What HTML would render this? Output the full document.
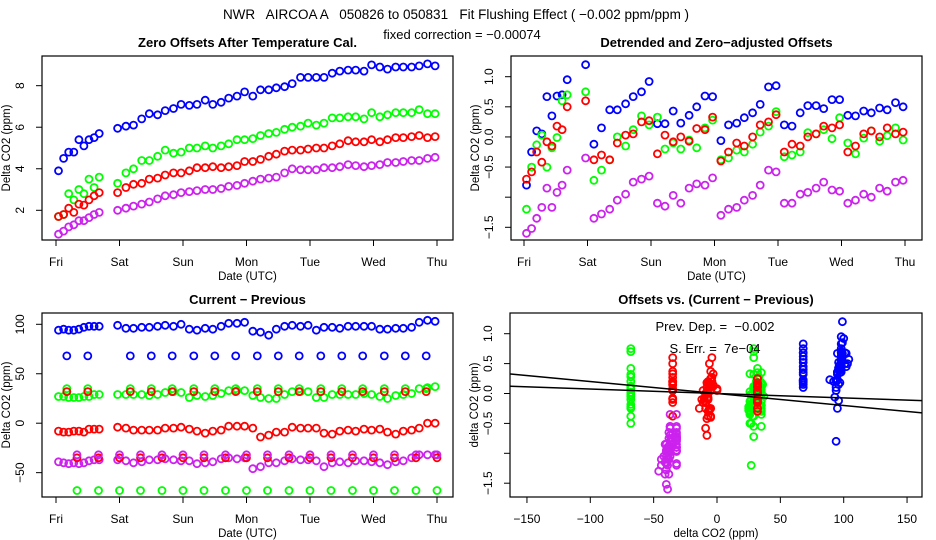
<!DOCTYPE html>
<html><head><meta charset="utf-8"><style>
html,body{margin:0;padding:0;background:#fff}
svg{display:block;font-family:"Liberation Sans",sans-serif}
text{white-space:pre}
</style></head><body>
<svg id="chart" width="936" height="540" viewBox="0 0 936 540" xmlns="http://www.w3.org/2000/svg" xml:space="preserve">
<text x="456" y="19" font-size="13.5" text-anchor="middle" xml:space="preserve">NWR   AIRCOA A   050826 to 050831   Fit Flushing Effect ( −0.002 ppm/ppm )</text>
<text x="462" y="39" font-size="13" text-anchor="middle">fixed correction = −0.00074</text>
</svg>
<script>
const times=[0.04,0.12,0.2,0.28,0.36,0.44,0.52,0.6,0.68,0.97,1.1,1.22,1.35,1.47,1.6,1.72,1.85,1.97,2.1,2.22,2.35,2.47,2.6,2.72,2.85,2.97,3.1,3.22,3.35,3.47,3.6,3.72,3.85,3.97,4.1,4.22,4.35,4.47,4.6,4.72,4.85,4.97,5.1,5.22,5.35,5.47,5.6,5.72,5.85,5.97];
const dayLabels=["Fri","Sat","Sun","Mon","Tue","Wed","Thu"];
// Panel 1: zero offsets
const offBlue=[3.9,4.5,4.8,4.8,5.4,5.1,5.4,5.5,5.7,5.95,6.05,6.1,6.4,6.65,6.6,6.8,6.9,7.1,7.05,7.1,7.3,7.1,7.2,7.4,7.5,7.7,7.5,7.8,7.8,7.9,7.95,8.1,8.4,8.4,8.4,8.4,8.6,8.7,8.75,8.75,8.7,9.0,8.9,8.8,8.9,8.9,8.9,8.95,9.05,8.95];
const offGreen=[1.7,1.8,2.8,2.5,3.0,2.8,3.5,3.1,3.6,3.3,3.8,4.0,4.4,4.4,4.6,4.9,4.75,4.8,5.0,5.0,5.1,5.0,5.1,5.2,5.4,5.4,5.45,5.6,5.7,5.75,5.9,6.0,6.05,6.2,6.1,6.2,6.45,6.45,6.5,6.5,6.4,6.7,6.5,6.6,6.7,6.7,6.7,6.85,6.65,6.65];
const offRed=[1.7,1.8,2.1,1.9,2.3,2.25,2.5,2.7,2.85,2.85,3.1,3.25,3.3,3.5,3.55,3.7,3.8,3.8,3.9,4.05,4.05,4.1,4.05,4.1,4.15,4.35,4.35,4.45,4.6,4.7,4.85,4.9,4.9,4.95,5.0,5.0,5.1,5.2,5.35,5.3,5.3,5.4,5.3,5.4,5.5,5.5,5.55,5.6,5.5,5.55];
const offPurple=[0.85,1.0,1.2,1.3,1.5,1.5,1.65,1.8,1.9,2.0,2.1,2.2,2.3,2.4,2.55,2.7,2.75,2.85,2.9,2.95,3.0,3.0,3.05,3.15,3.2,3.3,3.4,3.5,3.55,3.6,3.8,4.0,3.95,3.95,3.95,4.05,4.05,4.1,4.2,4.15,4.1,4.15,4.2,4.3,4.3,4.35,4.4,4.4,4.5,4.55];
// Panel 2: detrended
const detBlue=[-0.8,-0.25,0.1,0.05,0.67,0.35,0.68,0.7,0.95,1.2,-0.12,0.15,0.45,0.45,0.55,0.67,0.75,0.92,0.22,0.22,0.43,0.23,0.36,0.5,0.68,0.67,-0.06,0.2,0.23,0.32,0.4,0.54,0.83,0.85,0.2,0.18,0.4,0.52,0.52,0.47,0.62,0.62,0.36,0.35,0.43,0.4,0.48,0.45,0.57,0.5];
const detGreen=[-1.2,-0.5,-0.13,0.03,-0.5,-0.18,-0.01,0.6,0.7,0.75,-0.72,-0.55,-0.38,0.0,-0.15,0.12,0.35,0.2,0.33,-0.2,-0.1,-0.2,-0.05,-0.18,0.15,0.28,-0.38,-0.35,-0.22,-0.25,-0.12,0.08,0.18,0.42,-0.33,-0.3,-0.25,0.07,0.05,0.12,-0.03,0.32,-0.1,-0.28,-0.02,0.1,-0.07,0.02,0.15,-0.05];
const detRed=[-0.7,-0.58,-0.25,-0.42,-0.08,-0.15,0.18,0.12,0.5,0.6,-0.38,-0.3,-0.38,-0.1,0.03,0.05,0.25,0.27,-0.28,0.03,-0.08,0.0,-0.07,0.14,0.12,0.33,-0.4,-0.25,-0.1,-0.15,0.0,0.2,0.25,0.37,-0.25,-0.12,-0.15,0.0,0.05,0.18,0.15,0.2,-0.25,-0.15,0.05,0.1,0.0,0.15,0.05,0.08];
const detPurple=[-1.6,-1.52,-1.35,-1.17,-0.85,-1.17,-0.92,-0.8,-0.55,-0.35,-1.35,-1.28,-1.2,-1.05,-0.95,-0.75,-0.7,-0.65,-1.1,-1.15,-0.97,-1.1,-0.85,-0.78,-0.8,-0.68,-1.3,-1.2,-1.17,-1.05,-0.97,-0.8,-0.55,-0.58,-1.1,-1.1,-0.95,-0.92,-0.85,-0.75,-0.88,-0.9,-1.1,-1.05,-0.95,-1.0,-0.85,-0.9,-0.75,-0.72];
// Panel 3: current - previous
const cpBlue=[94,95,94,94,95,97,98,98,98,99,96,96,97,97,98,99,98,100,95,94,96,95,98,101,101,102,93,92,89,95,98,99,98,99,94,97,97,96,98,98,98,98,95,95,96,96,97,102,104,103];
const cpGreen=[27,27,26,26,26,27,27,29,29,29,29,29,29,28,29,31,32,31,26,28,27,28,30,33,33,33,28,26,25,25,29,32,32,32,26,26,29,29,29,29,30,29,27,25,28,29,30,35,36,37];
const cpRed=[-8,-9,-9,-8,-8,-9,-6,-6,-6,-4,-5,-7,-7,-7,-7,-5,-5,-4,-6,-8,-10,-8,-7,-3,-3,-3,-5,-14,-12,-9,-9,-4,-5,-5,-5,-10,-11,-8,-7,-8,-6,-7,-6,-9,-11,-8,-7,-5,0,0];
const cpPurple=[-39,-40,-41,-40,-41,-40,-38,-37,-37,-37,-38,-40,-39,-37,-37,-36,-37,-38,-38,-41,-40,-39,-36,-35,-36,-35,-46,-44,-40,-40,-38,-36,-37,-37,-38,-44,-40,-39,-40,-38,-38,-39,-40,-42,-39,-38,-35,-32,-32,-32];
const spikeTimesA=[0.17,0.5,1.17,1.5,1.83,2.17,2.5,2.83,3.17,3.5,3.83,4.17,4.5,4.83,5.17,5.5,5.83];
const spikeTimesB=[0.33,0.67,1.0,1.33,1.67,2.0,2.33,2.67,3.0,3.33,3.67,4.0,4.33,4.67,5.0,5.33,5.67,6.0];
const spikeBlueVal=68, spikeRedHiVal=32, spikeGreenHiVal=35, spikeGreenLoVal=-68, spikePurpleVal=-32, spikeRedLoVal=-35;
// Panel 4 fit
const fitSlope=-0.002, fixedSlope=-0.00074;

const NS="http://www.w3.org/2000/svg";
const svg=document.getElementById('chart');
function mk(tag,attrs,parent){const e=document.createElementNS(NS,tag);for(const k in attrs)e.setAttribute(k,attrs[k]);(parent||svg).appendChild(e);return e;}
const COL={blue:"#0000ff",green:"#00ff00",red:"#ff0000",purple:"#cc22ee"};
function nearestIdx(t){let b=0;for(let i=1;i<times.length;i++)if(Math.abs(times[i]-t)<Math.abs(times[b]-t))b=i;return b;}

function panel(p){
  const g=mk('g',{});
  
  
  const box=mk('rect',{x:p.l,y:p.t,width:p.r-p.l,height:p.b-p.t,fill:'none',stroke:'#000','stroke-width':1.2},g);
  
  
  const title=mk('text',{x:(p.l+p.r)/2,y:p.t-9,'font-size':13,'font-weight':'bold','text-anchor':'middle'},g);
  title.textContent=p.title;
  
  
  p.xt.forEach((v,i)=>{const x=p.X(v);
    const tk=mk('line',{x1:x,y1:p.b,x2:x,y2:p.b+6,stroke:'#000'},g);
    
    
    const lb=mk('text',{x:x,y:p.b+26,'font-size':12,'text-anchor':'middle'},g);
    lb.textContent=p.xl[i];
    
    });
  const xt=mk('text',{x:(p.l+p.r)/2,y:p.b+40,'font-size':11.5,'text-anchor':'middle'},g);
  xt.textContent=p.xtitle;
  
  
  p.yt.forEach((v,i)=>{const y=p.Y(v);
    const tk=mk('line',{x1:p.l,y1:y,x2:p.l-6,y2:y,stroke:'#000'},g);
    
    
    if(p.yl[i]!==''){const lx=p.l-18;
      const lb=mk('text',{x:lx,y:y,'font-size':12,'text-anchor':'middle',transform:`rotate(-90 ${lx} ${y})`},g);
      lb.textContent=p.yl[i];
      
      }});
  const yx=p.l-32, yy=(p.t+p.b)/2;
  const yt=mk('text',{x:yx,y:yy,'font-size':11.5,'text-anchor':'middle',transform:`rotate(-90 ${yx} ${yy})`},g);
  yt.textContent=p.ytitle;
  
  
  return g;
}
function pt(g,x,y,col,name){
  const c=mk('circle',{cx:x.toFixed(1),cy:y.toFixed(1),r:3.5,fill:'none',stroke:col,'stroke-width':1.8},g);
  
  
}
const dayTicks=[0,1,2,3,4,5,6];
const X1=t=>56+t*63.5, Y1=v=>210.3-(v-2)*20.77;
const g1=panel({name:'panel-zero-offsets',l:42,r:453,t:56,b:240,X:X1,Y:Y1,title:'Zero Offsets After Temperature Cal.',xt:dayTicks,xl:dayLabels,yt:[2,4,6,8],yl:['2','4','6','8'],xtitle:'Date (UTC)',ytitle:'Delta CO2 (ppm)'});
[[offBlue,'blue'],[offGreen,'green'],[offRed,'red'],[offPurple,'purple']].forEach(([arr,c])=>arr.forEach((v,i)=>pt(g1,X1(times[i]),Y1(v),COL[c],'offset-point-'+c)));
const X2=t=>524+t*63.5, Y2=v=>76.7-(v-1)*60.24;
const g2=panel({name:'panel-detrended',l:511,r:922,t:56,b:240,X:X2,Y:Y2,title:'Detrended and Zero−adjusted Offsets',xt:dayTicks,xl:dayLabels,yt:[1,0.5,0,-0.5,-1,-1.5],yl:['1.0','0.5','0.0','−0.5','','−1.5'],xtitle:'Date (UTC)',ytitle:'Delta CO2 (ppm)'});
[[detBlue,'blue'],[detGreen,'green'],[detRed,'red'],[detPurple,'purple']].forEach(([arr,c])=>arr.forEach((v,i)=>pt(g2,X2(times[i]),Y2(v),COL[c],'detrended-point-'+c)));
const X3=X1, Y3=v=>324.3-(v-100)*0.989;
const g3=panel({name:'panel-current-previous',l:42,r:453,t:313,b:497,X:X3,Y:Y3,title:'Current − Previous',xt:dayTicks,xl:dayLabels,yt:[100,50,0,-50],yl:['100','50','0','−50'],xtitle:'Date (UTC)',ytitle:'Delta CO2 (ppm)'});
const spikeSets=[[spikeTimesA,spikeBlueVal,'blue',detBlue],[spikeTimesA,spikeGreenHiVal,'green',detGreen],[spikeTimesB,spikeGreenLoVal,'green',detGreen],[spikeTimesA,spikeRedHiVal,'red',detRed],[spikeTimesB,spikeRedLoVal,'red',detRed],[spikeTimesB,spikePurpleVal,'purple',detPurple]];
[[cpBlue,'blue'],[cpGreen,'green'],[cpRed,'red'],[cpPurple,'purple']].forEach(([arr,c])=>arr.forEach((v,i)=>pt(g3,X3(times[i]),Y3(v),COL[c],'diff-point-'+c)));
spikeSets.forEach(([ts,v,c])=>ts.forEach(t=>pt(g3,X3(t),Y3(v),COL[c],'diff-spike-'+c)));
const X4=v=>717+v*1.267, Y4=v=>393.5-v*59.8;
const g4=panel({name:'panel-offsets-vs-diff',l:510,r:922,t:313,b:497,X:X4,Y:Y4,title:'Offsets vs. (Current − Previous)',xt:[-150,-100,-50,0,50,100,150],xl:['−150','−100','−50','0','50','100','150'],yt:[1,0.5,0,-0.5,-1,-1.5],yl:['1.0','0.5','0.0','−0.5','','−1.5'],xtitle:'delta CO2 (ppm)',ytitle:'delta CO2 (ppm)'});
[[cpBlue,detBlue,'blue'],[cpGreen,detGreen,'green'],[cpRed,detRed,'red'],[cpPurple,detPurple,'purple']].forEach(([xs,ys,c])=>xs.forEach((v,i)=>pt(g4,X4(v),Y4(ys[i]),COL[c],'scatter-point-'+c)));
spikeSets.forEach(([ts,v,c,det])=>ts.forEach(t=>pt(g4,X4(v),Y4(det[nearestIdx(t)]),COL[c],'scatter-spike-'+c)));
[[fitSlope,'fit-line'],[fixedSlope,'fixed-correction-line']].forEach(([s,n])=>{
  const x0=-163,x1=162;
  const ln=mk('line',{x1:X4(x0),y1:Y4(s*x0),x2:X4(x1),y2:Y4(s*x1),stroke:'#000','stroke-width':1.5},g4);
  
  
});
const a1=mk('text',{x:715,y:331,'font-size':13,'text-anchor':'middle'},g4);
a1.textContent='Prev. Dep. =  −0.002';


const a2=mk('text',{x:715,y:353,'font-size':13,'text-anchor':'middle'},g4);
a2.textContent='S. Err. =  7e−04';


</script>
</body></html>
